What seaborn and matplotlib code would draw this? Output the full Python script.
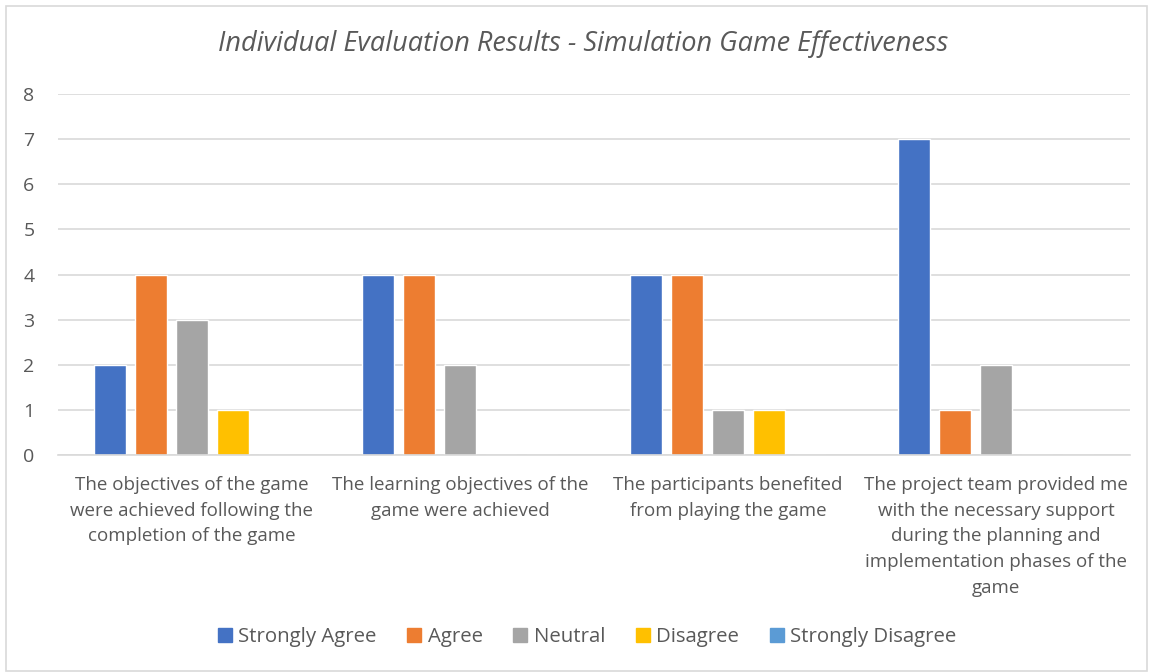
import matplotlib
matplotlib.use("Agg")
import matplotlib.pyplot as plt
import seaborn as sns
import pandas as pd
from matplotlib.patches import Rectangle

categories = [
    "The objectives of the game\nwere achieved following the\ncompletion of the game",
    "The learning objectives of the\ngame were achieved",
    "The participants benefited\nfrom playing the game",
    "The project team provided me\nwith the necessary support\nduring the planning and\nimplementation phases of the\ngame",
]
series = ["Strongly Agree", "Agree", "Neutral", "Disagree", "Strongly Disagree"]
strongly_agree = [2, 4, 4, 7]
agree = [4, 4, 4, 1]
neutral = [3, 2, 1, 2]
disagree = [1, 0, 1, 0]
strongly_disagree = [0, 0, 0, 0]
colors = ["#4472C4", "#ED7D31", "#A5A5A5", "#FFC000", "#5B9BD5"]
yticks = [0, 1, 2, 3, 4, 5, 6, 7, 8]
title = "Individual Evaluation Results - Simulation Game Effectiveness"

values = [strongly_agree, agree, neutral, disagree, strongly_disagree]
rows = []
for s, vals in zip(series, values):
    for c, v in zip(categories, vals):
        rows.append({"category": c, "series": s, "value": v})
df = pd.DataFrame(rows)

sns.set_theme(style="white")
plt.rcParams["font.family"] = ["Open Sans", "DejaVu Sans"]
txt = "#595959"

fig = plt.figure(figsize=(11.51, 6.72), dpi=100)
ax = fig.add_axes([58 / 1151, 217 / 672, (1130 - 58) / 1151, (455 - 94) / 672])

sns.barplot(data=df, x="category", y="value", hue="series", hue_order=series,
            order=categories, palette=colors, width=0.765, gap=0.22,
            saturation=1, ax=ax, legend=False)

ax.set_ylim(0, 8)
ax.set_xlim(-0.5, 3.5)
ax.set_yticks(yticks)
ax.set_yticklabels([str(t) for t in yticks], fontsize=14, color=txt)
ax.yaxis.grid(True, color="#D9D9D9", linewidth=1.2)
ax.set_axisbelow(True)
for side in ["top", "right", "left"]:
    ax.spines[side].set_visible(False)
ax.spines["bottom"].set_color("#D9D9D9")
ax.spines["bottom"].set_linewidth(1.2)
ax.tick_params(axis="y", length=0, pad=17)
ax.tick_params(axis="x", length=0, pad=15)
ax.set_xlabel("")
ax.set_ylabel("")
ax.set_xticks(range(len(categories)))
ax.set_xticklabels(categories, fontsize=13.5, color=txt, linespacing=1.55, va="top")

fig.text(583 / 1151, 1 - 44 / 672, title, ha="center", va="center",
         fontsize=19.5, style="italic", color=txt)

handles = [Rectangle((0, 0), 1, 1, color=c) for c in colors]
fig.legend(handles, series, loc="center", bbox_to_anchor=(587 / 1151, 1 - 637 / 672),
           ncol=5, frameon=False, fontsize=14.7, labelcolor=txt,
           handlelength=0.7, handleheight=0.7, handletextpad=0.3, columnspacing=1.5)

fig.add_artist(Rectangle((6 / 1151, 1 / 672), 1141 / 1151, 665 / 672,
                         transform=fig.transFigure, fill=False,
                         edgecolor="#D9D9D9", linewidth=1.2))

fig.savefig("out.png", dpi=100)
